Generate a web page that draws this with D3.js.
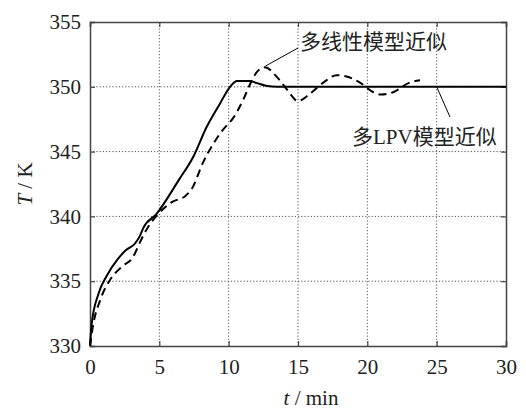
<!DOCTYPE html>
<html>
<head>
<meta charset="utf-8">
<script src="https://cdn.jsdelivr.net/npm/d3@7"></script>
<style>
html,body{margin:0;padding:0;background:#fff;}
svg{display:block;}
</style>
</head>
<body>
<svg id="chart" width="526" height="414"></svg>
<script>
// ---- data ----
const xTicks = [0, 5, 10, 15, 20, 25, 30];
const yTicks = [330, 335, 340, 345, 350, 355];

// 多LPV模型近似 (solid)
const lpvT = [0, 0.12, 0.6, 1.2, 2.0, 2.6, 3.24, 3.6, 3.84, 4.8, 6.4, 7.45, 8.41, 9.37, 10.1, 10.6, 11.5, 12.0, 12.7, 13.5, 30];
const lpvV = [330.1, 331.7, 334.0, 335.4, 336.7, 337.4, 337.9, 338.5, 339.1, 340.2, 342.8, 344.6, 346.9, 348.7, 350.0, 350.45, 350.45, 350.3, 350.08, 350, 350];

// 多线性模型近似 (dashed)
const linT = [0, 0.24, 0.72, 1.44, 2.28, 3.12, 3.6, 4.2, 4.93, 5.9, 6.9, 7.33, 8.17, 8.89, 9.6, 10.33, 11.05, 11.54, 12.0, 12.6, 13.45, 14.2, 15.0, 15.9, 16.8, 17.8, 18.5, 19.5, 20.4, 21.0, 21.9, 23.0, 23.8];
const linV = [330.0, 331.7, 333.5, 335.1, 336.1, 336.9, 338.0, 339.2, 340.2, 341.1, 341.6, 342.1, 344.2, 345.6, 346.7, 347.6, 349.0, 350.2, 351.1, 351.5, 350.8, 349.8, 348.9, 349.5, 350.3, 350.9, 350.8, 350.3, 349.6, 349.4, 349.6, 350.3, 350.5];

const labelLin = "多线性模型近似";
const labelLpv = "多LPV模型近似";

// ---- layout ----
const svg = d3.select("#chart");
const L = 90, R = 506, T = 22, B = 346;
const x = d3.scaleLinear().domain([0, 30]).range([L, R]);
const y = d3.scaleLinear().domain([330, 355]).range([B, T]);
const serif = "Liberation Serif";
const cjk = "Liberation Serif, Noto Sans CJK SC";

// grid
const g = svg.append("g");
g.selectAll("line.vg").data(xTicks.slice(1, -1)).join("line")
  .attr("x1", d => x(d)).attr("x2", d => x(d)).attr("y1", T).attr("y2", B)
  .attr("stroke", "#555").attr("stroke-width", 1).attr("stroke-dasharray", "1.2,2");
g.selectAll("line.hg").data(yTicks.slice(1, -1)).join("line")
  .attr("y1", d => y(d)).attr("y2", d => y(d)).attr("x1", L).attr("x2", R)
  .attr("stroke", "#555").attr("stroke-width", 1).attr("stroke-dasharray", "1.2,2");

// axes with inward ticks
const fmt = d3.format("d");
const axB = svg.append("g").attr("transform", `translate(0,${B})`)
  .call(d3.axisBottom(x).tickValues(xTicks).tickSize(-5).tickPadding(13).tickFormat(fmt));
const axL = svg.append("g").attr("transform", `translate(${L},0)`)
  .call(d3.axisLeft(y).tickValues(yTicks).tickSize(-5).tickPadding(9).tickFormat(fmt));
const axT = svg.append("g").attr("transform", `translate(0,${T})`)
  .call(d3.axisTop(x).tickValues(xTicks).tickSize(-5).tickFormat(""));
const axR = svg.append("g").attr("transform", `translate(${R},0)`)
  .call(d3.axisRight(y).tickValues(yTicks).tickSize(-5).tickFormat(""));
[axB, axL, axT, axR].forEach(a => {
  a.attr("font-family", serif).attr("font-size", 21);
  a.select(".domain").attr("stroke", "#444").attr("stroke-width", 1.5);
  a.selectAll(".tick line").attr("stroke", "#444").attr("stroke-width", 1.2);
  a.selectAll("text").style("font-family", serif).style("font-size", "21px").attr("fill", "#222");
});

// lines
const line = d3.line().x(d => x(d[0])).y(d => y(d[1])).curve(d3.curveMonotoneX);
const lpvData = lpvT.map((t, i) => [t, lpvV[i]]);
const linData = linT.map((t, i) => [t, linV[i]]);
svg.append("path").datum(lpvData).attr("d", line)
  .attr("fill", "none").attr("stroke", "#000").attr("stroke-width", 2);
svg.append("path").datum(linData).attr("d", line)
  .attr("fill", "none").attr("stroke", "#000").attr("stroke-width", 2)
  .attr("stroke-dasharray", "8,5");

// annotations
svg.append("line").attr("x1", x(12.65)).attr("y1", y(351.6)).attr("x2", 298).attr("y2", 48)
  .attr("stroke", "#000").attr("stroke-width", 1);
svg.append("text").attr("x", 300).attr("y", 49).text(labelLin)
  .style("font-family", cjk).style("font-size", "21px").attr("fill", "#222");
svg.append("line").attr("x1", x(25)).attr("y1", y(350)).attr("x2", 450).attr("y2", 117)
  .attr("stroke", "#000").attr("stroke-width", 1);
svg.append("text").attr("x", 352).attr("y", 144).text(labelLpv)
  .style("font-family", cjk).style("font-size", "21px").attr("fill", "#222");

// axis titles
const xt = svg.append("text").attr("x", 311).attr("y", 405).attr("text-anchor", "middle")
  .style("font-family", serif).style("font-size", "21px").attr("fill", "#222");
xt.append("tspan").attr("font-style", "italic").text("t");
xt.append("tspan").text(" / min");
const yt = svg.append("text").attr("transform", "translate(32,184) rotate(-90)").attr("text-anchor", "middle")
  .style("font-family", serif).style("font-size", "21px").attr("fill", "#222");
yt.append("tspan").attr("font-style", "italic").text("T");
yt.append("tspan").text(" / K");
</script>
</body>
</html>
